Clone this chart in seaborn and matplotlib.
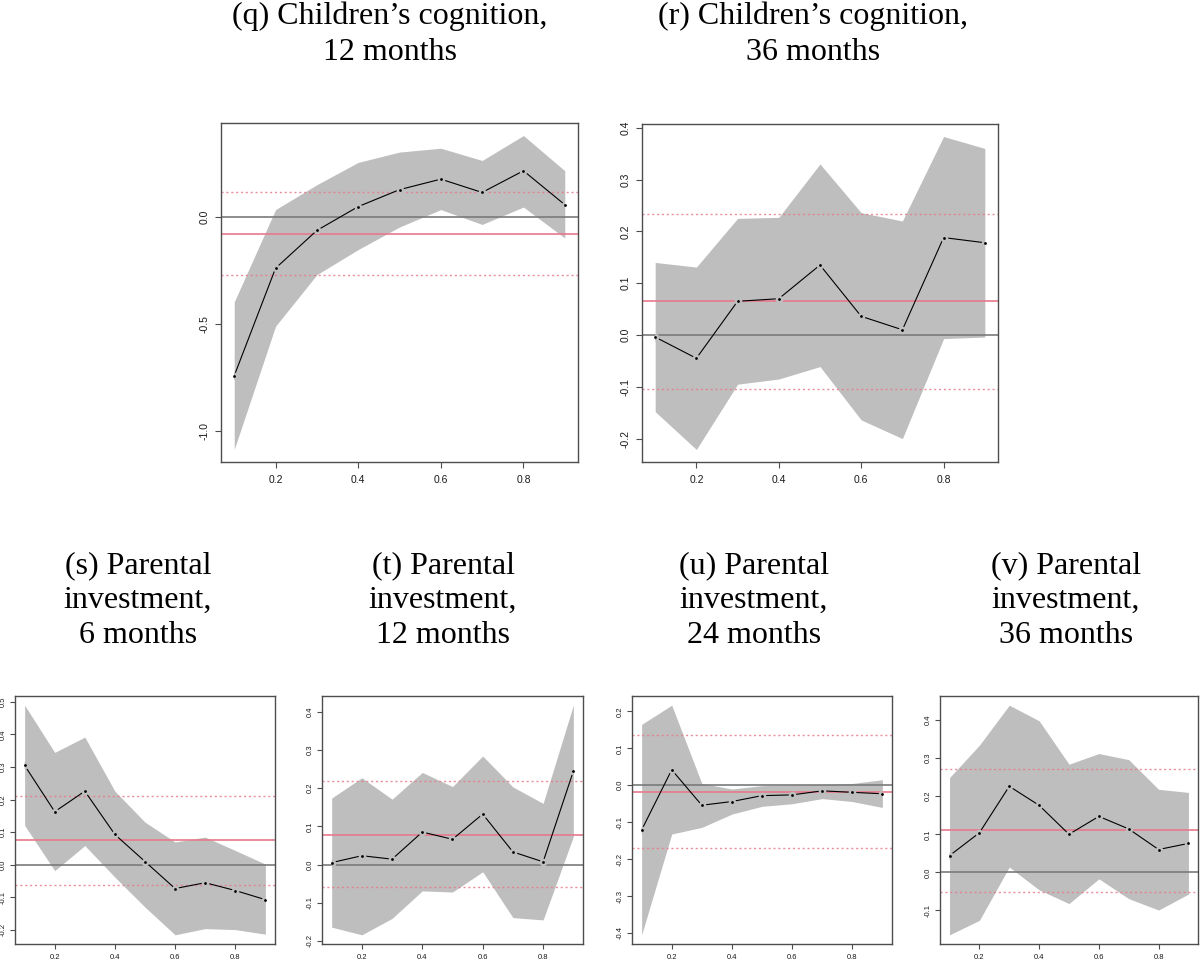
import numpy as np
import pandas as pd
import matplotlib
matplotlib.use("Agg")
import matplotlib.pyplot as plt
import seaborn as sns
from matplotlib.ticker import MultipleLocator

quantiles = [0.1, 0.2, 0.3, 0.4, 0.5, 0.6, 0.7, 0.8, 0.9]

# (q) children's cognition, 12 months
q_est = [-0.741, -0.240, -0.064, 0.047, 0.126, 0.175, 0.113, 0.214, 0.056]
q_upper = [-0.397, 0.033, 0.149, 0.253, 0.301, 0.319, 0.262, 0.378, 0.214]
q_lower = [-1.084, -0.510, -0.270, -0.153, -0.048, 0.033, -0.036, 0.045, -0.099]
q_ref = [-0.079, 0.115, -0.271]  # mean effect, upper ci, lower ci

# (r) children's cognition, 36 months
r_est = [-0.004, -0.045, 0.065, 0.070, 0.135, 0.036, 0.010, 0.188, 0.178]
r_upper = [0.140, 0.131, 0.225, 0.227, 0.330, 0.236, 0.220, 0.383, 0.360]
r_lower = [-0.148, -0.221, -0.095, -0.085, -0.061, -0.164, -0.200, -0.007, -0.004]
r_ref = [0.065, 0.234, -0.104]

# (s) parental investment, 6 months
s_est = [0.305, 0.163, 0.226, 0.093, 0.010, -0.073, -0.055, -0.079, -0.107]
s_upper = [0.490, 0.345, 0.392, 0.226, 0.131, 0.070, 0.085, 0.044, 0.002]
s_lower = [0.121, -0.018, 0.059, -0.038, -0.130, -0.215, -0.196, -0.199, -0.213]
s_ref = [0.075, 0.210, -0.061]

# (t) parental investment, 12 months
t_est = [0.005, 0.023, 0.014, 0.085, 0.066, 0.132, 0.033, 0.007, 0.244]
t_upper = [0.174, 0.227, 0.171, 0.241, 0.204, 0.284, 0.203, 0.160, 0.417]
t_lower = [-0.164, -0.184, -0.141, -0.069, -0.072, -0.019, -0.139, -0.145, 0.073]
t_ref = [0.078, 0.218, -0.060]

# (u) parental investment, 24 months
u_est = [-0.121, 0.042, -0.054, -0.044, -0.028, -0.026, -0.015, -0.019, -0.023]
u_upper = [0.165, 0.217, 0.005, -0.010, -0.001, 0.001, 0.002, 0.005, 0.015]
u_lower = [-0.405, -0.132, -0.114, -0.078, -0.057, -0.050, -0.036, -0.044, -0.060]
u_ref = [-0.017, 0.137, -0.171]

# (v) parental investment, 36 months
v_est = [0.044, 0.104, 0.226, 0.176, 0.100, 0.147, 0.114, 0.060, 0.076]
v_upper = [0.249, 0.334, 0.439, 0.398, 0.284, 0.312, 0.296, 0.218, 0.210]
v_lower = [-0.164, -0.126, 0.014, -0.046, -0.082, -0.017, -0.069, -0.099, -0.057]
v_ref = [0.111, 0.272, -0.051]

titles = [
    ["(q) Children\u2019s cognition,", "12 months"],
    ["(r) Children\u2019s cognition,", "36 months"],
    ["(s) Parental", "investment,", "6 months"],
    ["(t) Parental", "investment,", "12 months"],
    ["(u) Parental", "investment,", "24 months"],
    ["(v) Parental", "investment,", "36 months"],
]

panels = [
    (q_est, q_upper, q_lower, q_ref, 0.5),
    (r_est, r_upper, r_lower, r_ref, 0.1),
    (s_est, s_upper, s_lower, s_ref, 0.1),
    (t_est, t_upper, t_lower, t_ref, 0.1),
    (u_est, u_upper, u_lower, u_ref, 0.1),
    (v_est, v_upper, v_lower, v_ref, 0.1),
]

W, H = 1200, 959
# axes boxes in pixels: left, top, right, bottom
boxes = [(221, 123, 578, 462), (642, 124, 998, 462),
         (15, 696, 275, 944), (322, 696, 583, 944),
         (632, 696, 892, 944), (940, 696, 1198, 944)]
# title centre x and first baseline y, in pixels
title_pos = [(390, 24), (813, 24), (138, 573), (443, 573), (754, 573), (1066, 573)]
line_step = [36, 36, 35, 35, 35, 35]

sns.set_theme(style="white")
plt.rcParams["axes.unicode_minus"] = False
plt.rcParams["font.family"] = ["Liberation Sans", "DejaVu Sans"]

fig = plt.figure(figsize=(W / 100, H / 100), dpi=100)

BAND = "#BEBEBE"
RED = "#E8798C"

for i, (est, upper, lower, ref, ystep) in enumerate(panels):
    l, t, r, b = boxes[i]
    ax = fig.add_axes([l / W, 1 - b / H, (r - l) / W, (b - t) / H])
    small = i >= 2
    df = pd.DataFrame({"quantile": quantiles, "effect": est})

    band = ax.fill_between(quantiles, lower, upper, color=BAND, linewidth=0, zorder=1)
    ax.axhline(0, color="#7A7A7A", linewidth=1.2, zorder=2)
    ax.axhline(ref[0], color=RED, linewidth=1.4, alpha=0.85, zorder=2)
    ax.axhline(ref[1], color=RED, linewidth=1.0, linestyle=(0, (1.5, 2)), alpha=0.85, zorder=2)
    ax.axhline(ref[2], color=RED, linewidth=1.0, linestyle=(0, (1.5, 2)), alpha=0.85, zorder=2)

    # line with small gaps around the points (R type="b"), gaps clipped to the band
    sns.lineplot(data=df, x="quantile", y="effect", ax=ax, color="black",
                 linewidth=0.8, marker="o", markersize=5.5,
                 markerfacecolor=BAND, markeredgecolor=BAND,
                 markeredgewidth=0, zorder=3)
    ax.lines[-1].set_clip_path(band.get_paths()[0], transform=ax.transData)
    sns.scatterplot(data=df, x="quantile", y="effect", ax=ax, color="black",
                    s=4, linewidth=0, zorder=4)

    # R-style 4% axis extension
    xr = max(quantiles) - min(quantiles)
    ax.set_xlim(min(quantiles) - 0.04 * xr, max(quantiles) + 0.04 * xr)
    ylo, yhi = min(lower), max(upper)
    yr = yhi - ylo
    ax.set_ylim(ylo - 0.04 * yr, yhi + 0.04 * yr)

    ax.xaxis.set_major_locator(MultipleLocator(0.2))
    ax.yaxis.set_major_locator(MultipleLocator(ystep))
    ax.set_xlabel("")
    ax.set_ylabel("")

    fs = 5.5 if small else 7.5
    tl = 3.6 if small else 4.3
    ax.tick_params(axis="both", direction="out", length=tl, width=0.8,
                   color="#4D4D4D", labelsize=fs, labelcolor="#1A1A1A",
                   bottom=True, left=True)
    ax.tick_params(axis="x", pad=3.5 if small else 5)
    ax.tick_params(axis="y", pad=2.5 if small else 4, labelrotation=90)
    for lab in ax.get_yticklabels():
        lab.set_va("center")
    for sp in ax.spines.values():
        sp.set_visible(True)
        sp.set_color("#4D4D4D")
        sp.set_linewidth(1.0)

    cx, by = title_pos[i]
    for k, line in enumerate(titles[i]):
        fig.text(cx / W, 1 - (by + k * line_step[i]) / H, line,
                 ha="center", va="baseline", fontsize=23,
                 family=["Liberation Serif", "DejaVu Serif"], color="black")

fig.savefig("out.png", dpi=100)
